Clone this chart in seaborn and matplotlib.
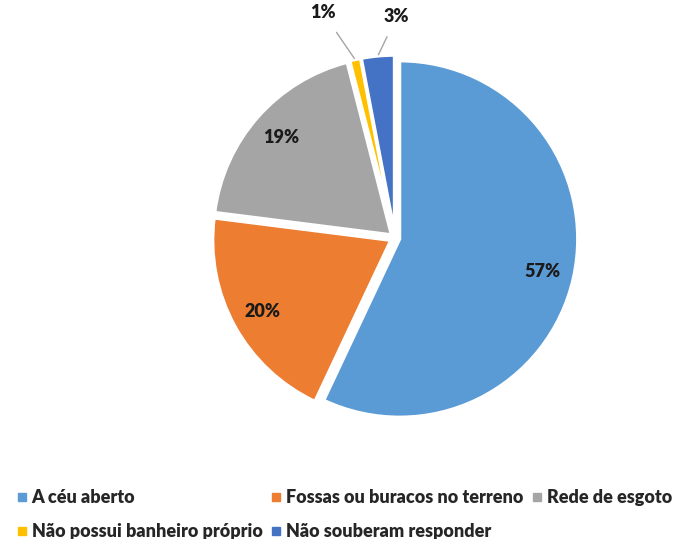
import matplotlib
matplotlib.use("Agg")
import matplotlib.pyplot as plt
import seaborn as sns
import numpy as np
from matplotlib.lines import Line2D

categories = ["A céu aberto", "Fossas ou buracos no terreno", "Rede de esgoto",
              "Não possui banheiro próprio", "Não souberam responder"]
values = [57, 20, 19, 1, 3]
colors = ["#5B9BD5", "#ED7D31", "#A5A5A5", "#FFC000", "#4472C4"]

sns.set_theme(style="white")
plt.rcParams['font.family'] = ['Lato', 'DejaVu Sans']
plt.rcParams['font.weight'] = 'bold'

fig = plt.figure(figsize=(6.73, 5.39), dpi=100)
ax = fig.add_axes([164/673, (539-469)/539, 462/673, 462/539])
ax.set_xlim(-1.3, 1.3)
ax.set_ylim(-1.3, 1.3)
ax.set_aspect('equal')
ax.axis('off')

R = 0.965
cx, cy = 0.01, -0.01
explode = [0.025] * len(values)
wedges, _ = ax.pie(values, colors=colors, startangle=90, counterclock=False,
                   explode=explode, radius=R, center=(cx, cy),
                   wedgeprops=dict(edgecolor='white', linewidth=2.5))

pctdist = 0.82
for i, (w, v) in enumerate(zip(wedges, values)):
    mid = np.deg2rad((w.theta1 + w.theta2) / 2)
    label = f"{v}%"
    if v >= 5:
        ax.text(cx + pctdist * np.cos(mid), cy + pctdist * np.sin(mid), label,
                ha='center', va='center', fontsize=13, fontweight='heavy', color='#1a1a1a')

# small slices with leader lines
outer = {3: (-0.38, 1.21), 4: (0.02, 1.19)}
for i, (tx, ty) in outer.items():
    w = wedges[i]
    mid = np.deg2rad((w.theta1 + w.theta2) / 2)
    ex = R + explode[i] * R
    ax.annotate(f"{values[i]}%", xy=(cx + ex * np.cos(mid), cy + ex * np.sin(mid)),
                xytext=(tx, ty), ha='center', va='center', fontsize=13,
                fontweight='heavy', color='#1a1a1a',
                arrowprops=dict(arrowstyle='-', color='#A5A5A5', lw=1,
                                shrinkA=7, shrinkB=1))

handles = [Line2D([0], [0], marker='s', color='none', markerfacecolor=c,
                  markeredgecolor=c, markersize=6) for c in colors]
order = [0, 3, 1, 4, 2]
fig.legend([handles[i] for i in order], [categories[i] for i in order],
           loc='upper left', bbox_to_anchor=(0.0, (539 - 473) / 539),
           ncol=3, frameon=False, handlelength=0.6,
           handletextpad=0.25, columnspacing=0.45, labelspacing=0.95,
           prop={'weight': 'heavy', 'size': 13})

fig.savefig("out.png", dpi=100)
